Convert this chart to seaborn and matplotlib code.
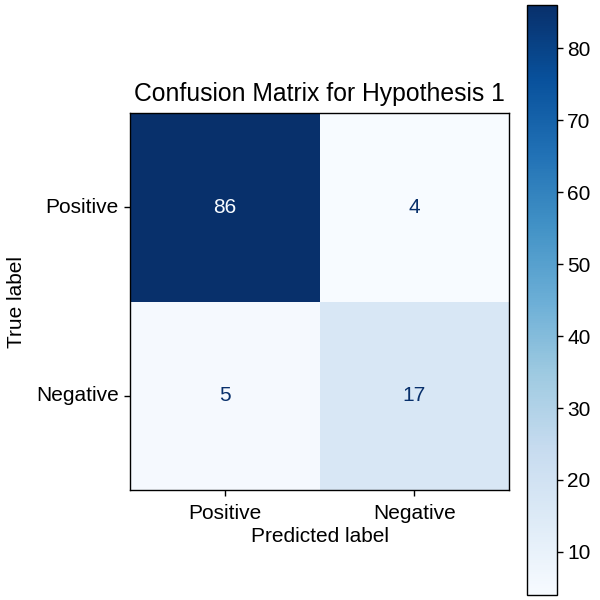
import numpy as np
import pandas as pd
import matplotlib
matplotlib.use("Agg")
import matplotlib.pyplot as plt
import seaborn as sns

plt.rcParams['font.family'] = ['Liberation Sans', 'DejaVu Sans']

# data
labels = ["Positive", "Negative"]
counts = [[86, 4],
          [5, 17]]
title = "Confusion Matrix for Hypothesis 1"

cm = pd.DataFrame(counts, index=labels, columns=labels)
cmap = plt.get_cmap("Blues")

fig = plt.figure(figsize=(6, 6), dpi=100)
ax = fig.add_axes([0.2167, 0.1833, 0.632, 0.628])
cax = fig.add_axes([0.878, 0.0083, 0.05, 0.983])

sns.heatmap(cm, ax=ax, cbar_ax=cax, cmap=cmap, annot=True, fmt="d",
            annot_kws={"fontsize": 15}, square=False, linewidths=0)

# sklearn-style text colours: light text on dark cells, dark text on light cells
vmin, vmax = cm.values.min(), cm.values.max()
thresh = (vmin + vmax) / 2.0
for txt, val in zip(ax.texts, cm.values.ravel()):
    txt.set_color(cmap(0.0) if val > thresh else cmap(1.0))

for sp in ax.spines.values():
    sp.set_visible(True)
    sp.set_color("black")
    sp.set_linewidth(1.0)

ax.tick_params(axis="both", length=4, width=1, labelsize=15, color="black", pad=4)
ax.tick_params(axis="x", pad=6)
ax.set_yticklabels(labels, rotation=0, va="center")
ax.set_xticklabels(labels, rotation=0)
ax.set_xlabel("Predicted label", fontsize=15, labelpad=3)
ax.set_ylabel("True label", fontsize=15, labelpad=7)
ax.set_title(title, fontsize=17.8, pad=9)

cbar = ax.collections[0].colorbar
cbar.set_ticks([10, 20, 30, 40, 50, 60, 70, 80])
cbar.outline.set_visible(True)
cbar.outline.set_edgecolor("black")
cbar.outline.set_linewidth(1.0)
cax.tick_params(labelsize=15, length=4, width=1)

fig.savefig("out.png", dpi=100)
